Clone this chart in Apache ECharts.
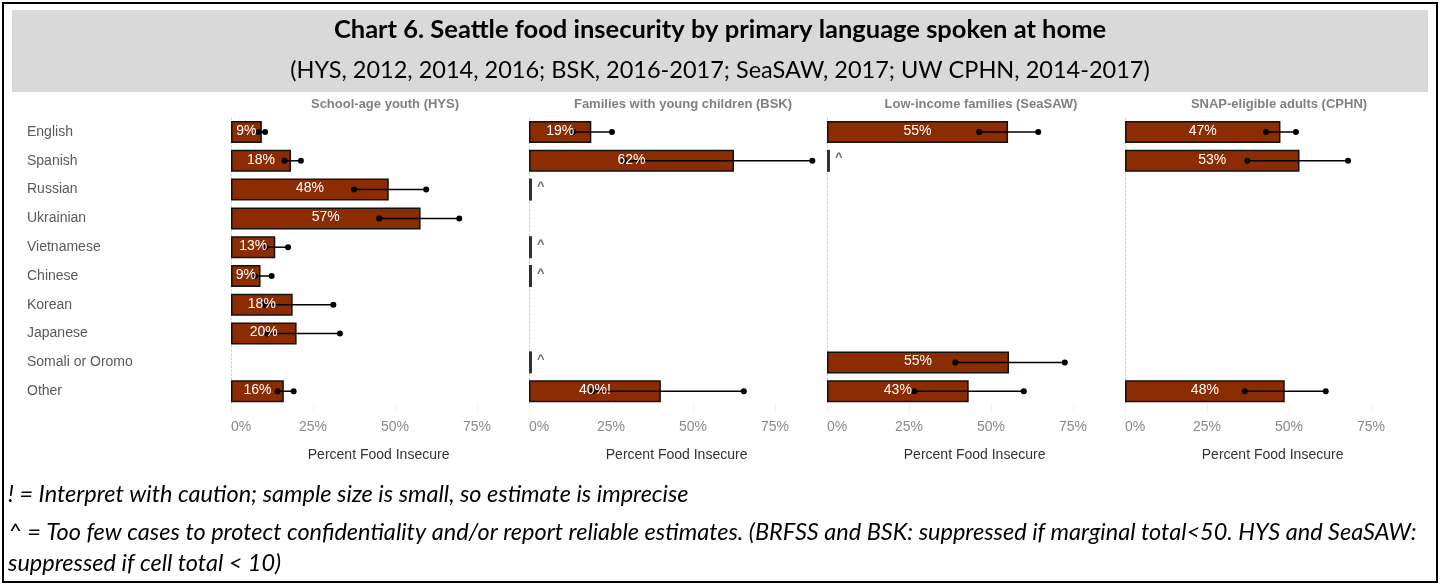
<!DOCTYPE html>
<html><head><meta charset="utf-8">
<script src="https://cdn.jsdelivr.net/npm/echarts@6/dist/echarts.min.js"></script>
<style>html,body{margin:0;padding:0;background:#fff}#c{width:1440px;height:585px}</style>
</head><body><div id="c"></div>
<script>
// ---------- data ----------
const languages = ['English','Spanish','Russian','Ukrainian','Vietnamese','Chinese','Korean','Japanese','Somali or Oromo','Other'];
const panelTitles = ['School-age youth (HYS)','Families with young children (BSK)','Low-income families (SeaSAW)','SNAP-eligible adults (CPHN)'];
const xTicks = [0, 25, 50, 75];
const axisTitle = 'Percent Food Insecure';

const hysValues = [9.4, 18.3, 48.1, 57.8, 13.5, 9.0, 18.8, 20.0, null, 16.1];
const hysLabels = ['9%','18%','48%','57%','13%','9%','18%','20%',null,'16%'];
const hysLow    = [8.3, 16.3, 37.5, 45.2, 10.5, 7.3, 10.2, 11.0, null, 14.2];
const hysHigh   = [10.4, 21.3, 59.5, 69.6, 17.4, 12.4, 31.2, 33.2, null, 19.1];
const hysSuppressed = [0,0,0,0,0,0,0,0,0,0];

const bskValues = [19.0, 62.5, null, null, null, null, null, null, null, 40.2];
const bskLabels = ['19%','62%',null,null,null,null,null,null,null,'40%!'];
const bskLow    = [13.4, 28.9, null, null, null, null, null, null, null, 19.4];
const bskHigh   = [25.3, 86.4, null, null, null, null, null, null, null, 65.5];
const bskSuppressed = [0,0,1,0,1,1,0,0,1,0];

const seasawValues = [55.2, null, null, null, null, null, null, null, 55.5, 43.2];
const seasawLabels = ['55%',null,null,null,null,null,null,null,'55%','43%'];
const seasawLow    = [46.4, null, null, null, null, null, null, null, 39.1, 26.6];
const seasawHigh   = [64.4, null, null, null, null, null, null, null, 72.5, 60.0];
const seasawSuppressed = [0,1,0,0,0,0,0,0,0,0];

const cphnValues = [47.4, 53.2, null, null, null, null, null, null, null, 48.7];
const cphnLabels = ['47%','53%',null,null,null,null,null,null,null,'48%'];
const cphnLow    = [43.0, 37.3, null, null, null, null, null, null, null, 36.5];
const cphnHigh   = [52.1, 68.0, null, null, null, null, null, null, null, 61.2];
const cphnSuppressed = [0,0,0,0,0,0,0,0,0,0];

const chartTitle = 'Chart 6. Seattle food insecurity by primary language spoken at home';
const chartSubtitle = '(HYS, 2012, 2014, 2016; BSK, 2016-2017; SeaSAW, 2017; UW CPHN, 2014-2017)';
const footnote1 = '! = Interpret with caution; sample size is small, so estimate is imprecise';
const footnote2 = '^ = Too few cases to protect confidentiality and/or report reliable estimates. (BRFSS and BSK: suppressed if marginal total<50. HYS and SeaSAW:';
const footnote3 = 'suppressed if cell total < 10)';

// ---------- build ----------
const panels = [
  {v: hysValues, l: hysLabels, lo: hysLow, hi: hysHigh, s: hysSuppressed},
  {v: bskValues, l: bskLabels, lo: bskLow, hi: bskHigh, s: bskSuppressed},
  {v: seasawValues, l: seasawLabels, lo: seasawLow, hi: seasawHigh, s: seasawSuppressed},
  {v: cphnValues, l: cphnLabels, lo: cphnLow, hi: cphnHigh, s: cphnSuppressed}
];
const BAR = '#8B2C02';
const PX_PER = 3.28, XMAX = 90;
const gridTop = 117.6, gridH = 288;
const panelLeft = i => 231 + 298 * i;
const gridW = PX_PER * XMAX;
const SANS = 'Liberation Sans, Arial, sans-serif';

const grids = [], xAxes = [], yAxes = [], series = [], titles = [];
panels.forEach((p, i) => {
  grids.push({left: panelLeft(i), top: gridTop, width: gridW, height: gridH});
  xAxes.push({
    type: 'value', gridIndex: i, min: 0, max: XMAX, interval: 25,
    axisLine: {show: false},
    axisTick: {show: true, length: 6, lineStyle: {color: '#d8d8d8', type: 'dotted'}},
    splitLine: {show: false},
    axisLabel: {formatter: v => xTicks.includes(v) ? v + '%' : '', showMaxLabel: false, alignMinLabel: 'left',
      color: '#8a8a8a', fontSize: 14, fontFamily: SANS, margin: 15},
    name: axisTitle, nameLocation: 'middle', nameGap: 43,
    nameTextStyle: {color: '#333', fontSize: 14, fontFamily: SANS}
  });
  yAxes.push({
    type: 'category', gridIndex: i, data: languages, inverse: true,
    axisLine: {show: true, lineStyle: {color: '#d4d4d4', type: [2, 2], width: 1}},
    axisTick: {show: false},
    axisLabel: {show: i === 0, align: 'left', margin: 204, color: '#5a5a5a', fontSize: 14, fontFamily: SANS}
  });
  series.push({
    type: 'bar', xAxisIndex: i, yAxisIndex: i, barWidth: 22, z: 2,
    data: p.v.map(v => v == null ? '-' : v),
    itemStyle: {color: BAR, borderColor: '#111', borderWidth: 1.5}
  });
  const err = [];
  p.lo.forEach((lo, k) => { if (lo != null) err.push([lo, p.hi[k], k]); });
  series.push({
    type: 'custom', xAxisIndex: i, yAxisIndex: i, z: 3,
    data: err, encode: {x: [0, 1], y: 2},
    renderItem: (params, api) => {
      const y = api.value(2);
      const a = api.coord([api.value(0), y]);
      const b = api.coord([api.value(1), y]);
      return {type: 'group', children: [
        {type: 'line', shape: {x1: a[0], y1: a[1], x2: b[0], y2: b[1]}, style: {stroke: '#000', lineWidth: 1.5}},
        {type: 'circle', shape: {cx: a[0], cy: a[1], r: 3}, style: {fill: '#000'}},
        {type: 'circle', shape: {cx: b[0], cy: b[1], r: 3}, style: {fill: '#000'}}
      ]};
    }
  });
  const lab = [];
  p.v.forEach((v, k) => { if (v != null) lab.push([v, k]); });
  series.push({
    type: 'custom', xAxisIndex: i, yAxisIndex: i, z: 4,
    data: lab, encode: {x: 0, y: 1},
    renderItem: (params, api) => {
      const k = api.value(1);
      const c = api.coord([api.value(0) / 2, k]);
      return {type: 'text', x: c[0], y: c[1] - 1, style: {text: p.l[k], fill: '#fff', align: 'center',
        verticalAlign: 'middle', font: '14px ' + SANS}};
    }
  });
  const sup = [];
  p.s.forEach((f, k) => { if (f) sup.push([0, k]); });
  series.push({
    type: 'scatter', xAxisIndex: i, yAxisIndex: i, z: 3,
    data: sup, symbol: 'rect', symbolSize: [3, 22], symbolOffset: [1.5, 0],
    itemStyle: {color: '#000'},
    label: {show: true, position: 'right', distance: 5, formatter: '^', color: '#3c4a5a', fontSize: 13,
      fontWeight: 'bold', fontFamily: SANS, offset: [0, -3]}
  });
  titles.push({
    text: panelTitles[i], left: panelLeft(i) + 149, top: 93, textAlign: 'center',
    textStyle: {color: '#808080', fontSize: 13, fontWeight: 'bold', fontFamily: SANS}
  });
});

const chart = echarts.init(document.getElementById('c'));
chart.setOption({
  animation: false,
  title: titles,
  grid: grids, xAxis: xAxes, yAxis: yAxes, series: series,
  graphic: [
    {type: 'rect', shape: {x: 3, y: 3, width: 1434, height: 579}, style: {fill: 'none', stroke: '#000', lineWidth: 2}, z: 10},
    {type: 'rect', shape: {x: 12, y: 10, width: 1416, height: 82}, style: {fill: '#d9d9d9'}, z: 0},
    {type: 'text', x: 720, y: 30, style: {text: chartTitle, textAlign: 'center', textVerticalAlign: 'middle',
      font: 'bold 25.5px Lato, "Noto Sans", sans-serif', fill: '#000'}, z: 5},
    {type: 'text', x: 720, y: 70, style: {text: chartSubtitle, textAlign: 'center', textVerticalAlign: 'middle',
      font: '23.5px Lato, "Noto Sans", sans-serif', fill: '#000'}, z: 5},
    {type: 'text', x: 8, y: 494, style: {text: footnote1, textAlign: 'left', textVerticalAlign: 'middle',
      font: 'italic 23.5px Lato, "Noto Sans", sans-serif', fill: '#000'}, z: 5},
    {type: 'text', x: 8, y: 532, style: {text: footnote2, textAlign: 'left', textVerticalAlign: 'middle',
      font: 'italic 23.5px Lato, "Noto Sans", sans-serif', fill: '#000'}, z: 5},
    {type: 'text', x: 8, y: 563, style: {text: footnote3, textAlign: 'left', textVerticalAlign: 'middle',
      font: 'italic 23.5px Lato, "Noto Sans", sans-serif', fill: '#000'}, z: 5}
  ]
});
</script></body></html>
